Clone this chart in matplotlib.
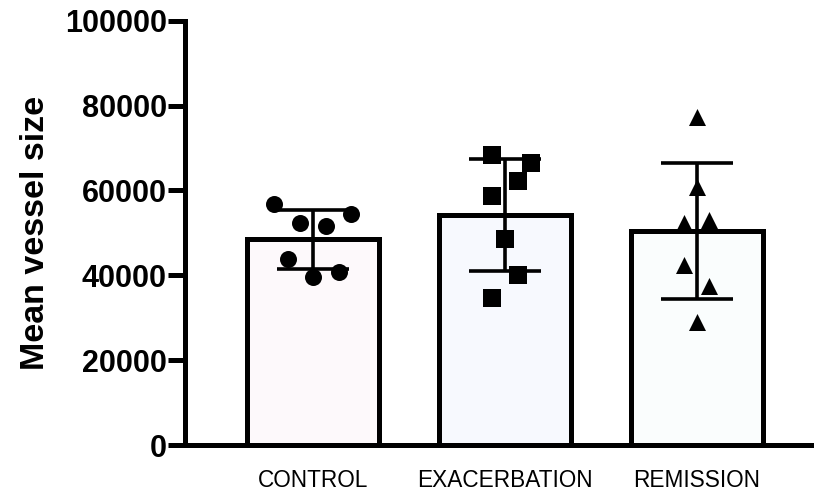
import numpy as np
import matplotlib.pyplot as plt

groups = ['CONTROL', 'EXACERBATION', 'REMISSION']
control = [56800, 54500, 52400, 51700, 43900, 40800, 39600]
exacerbation = [68400, 66500, 62300, 58700, 48600, 40100, 34700]
remission = [77400, 60800, 52400, 53100, 42500, 37500, 29000]
yticks = [0, 20000, 40000, 60000, 80000, 100000]

# horizontal spread of the points inside each bar (in bar units)
spread = [
    [-0.2, 0.2, -0.068, 0.068, -0.13, 0.135, 0.0],
    [-0.068, 0.135, 0.068, -0.068, 0.0, 0.068, -0.068],
    [0.0, 0.0, -0.068, 0.065, -0.068, 0.065, 0.0],
]
markers = ['o', 's', '^']
sizes = [150, 165, 150]
fills = ['#fdf9fb', '#f7f9fe', '#fafdfd']

plt.rcParams['font.family'] = ['Liberation Sans', 'DejaVu Sans']

fig = plt.figure(figsize=(8.14, 4.95), dpi=100)
ax = fig.add_axes([0.227, 0.101, 0.773, 0.857])

data = [control, exacerbation, remission]
x = np.arange(len(groups))
means = [np.mean(d) for d in data]
sds = [np.std(d, ddof=1) for d in data]

ax.bar(x, means, width=0.69, color=fills, edgecolor='black', linewidth=3.6, zorder=1)
ax.errorbar(x, means, yerr=sds, fmt='none', ecolor='black', elinewidth=2.6,
            capsize=26, capthick=2.6, zorder=2)
for i, d in enumerate(data):
    ax.scatter(x[i] + np.array(spread[i]), d, marker=markers[i], s=sizes[i],
               color='black', zorder=3, linewidths=0)

ax.set_xlim(-0.667, 2.61)
ax.set_ylim(0, 100000)
ax.set_yticks(yticks)
ax.set_yticklabels([str(t) for t in yticks], fontsize=22, fontweight='bold')
ax.set_xticks(x)
ax.set_xticklabels(groups, fontsize=16.3)
ax.tick_params(axis='y', length=12, width=3.6, pad=1)
ax.tick_params(axis='x', length=0, pad=17)
ax.set_ylabel('Mean vessel size', fontsize=24.5, fontweight='bold', labelpad=10)

for s in ['top', 'right']:
    ax.spines[s].set_visible(False)
for s in ['left', 'bottom']:
    ax.spines[s].set_linewidth(3.6)

fig.savefig('out.png', dpi=100)
